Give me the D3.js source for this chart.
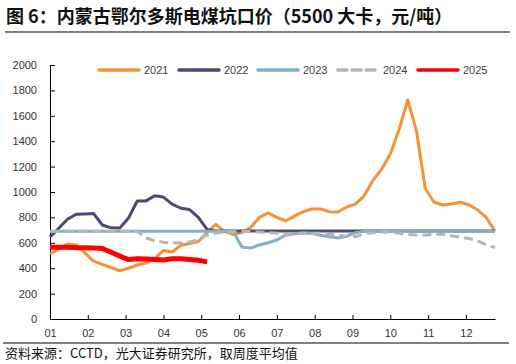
<!DOCTYPE html>
<html>
<head>
<meta charset="utf-8">
<script src="https://cdn.jsdelivr.net/npm/d3@7"></script>
<style>
  body { margin: 0; background: #fff; }
  svg { display: block; }
</style>
</head>
<body>
<script>
// weekly coal price, yuan/ton, one value per week (week 0 = early Jan)
const months = ["01", "02", "03", "04", "05", "06", "07", "08", "09", "10", "11", "12"];
const yTicks = [0, 200, 400, 600, 800, 1000, 1200, 1400, 1600, 1800, 2000];
const years = ["2021", "2022", "2023", "2024", "2025"];

const v2021 = [515, 550, 590, 583, 520, 455, 430, 405, 380, 400, 425, 440, 475, 540, 528, 580,
  595, 610, 680, 745, 690, 665, 680, 720, 800, 835, 800, 772, 810, 843, 866, 866,
  845, 843, 882, 905, 970, 1090, 1180, 1300, 1490, 1725, 1480, 1030, 921, 898, 905, 920,
  900, 860, 800, 690];
const v2022 = [646, 715, 785, 825, 827, 830, 740, 718, 717, 795, 929, 930, 970, 960, 905, 872,
  862, 800, 705, 693, 693, 693, 693, 693, 693, 693, 693, 693, 693, 693, 693, 693,
  693, 693, 693, 693, 693, 693, 693, 693, 693, 693, 693, 693, 693, 693, 693, 693,
  693, 693, 693, 693];
const v2023 = [690, 690, 690, 690, 690, 690, 690, 690, 690, 690, 690, 690, 690, 690, 690, 690,
  690, 690, 690, 690, 690, 690, 567, 558, 583, 600, 622, 660, 672, 677, 675, 660,
  648, 638, 652, 680, 690, 690, 690, 690, 690, 690, 690, 690, 690, 690, 690, 690,
  690, 690, 690, 690];
const v2024 = [690, 690, 690, 690, 690, 690, 690, 690, 690, 690, 690, 640, 615, 605, 598, 600,
  605, 625, 660, 678, 685, 688, 690, 688, 685, 680, 675, 668, 672, 675, 675, 675,
  668, 660, 650, 648, 670, 680, 685, 685, 675, 665, 662, 662, 668, 665, 655, 645,
  635, 615, 585, 562];
const v2025 = [565, 565, 565, 562, 562, 560, 555, 525, 495, 468, 475, 472, 468, 465, 475, 475,
  468, 462, 450];

const colors = ["#f39237", "#4b4b72", "#82aec8", "#b5b5b5", "#ff0000"];
const widths = [3, 3, 3, 3, 5];
const dashes = [null, null, null, "9,5", null];
const series = [v2021, v2022, v2023, v2024, v2025];

const W = 516, H = 364;
const svg = d3.select("body").append("svg").attr("width", W).attr("height", H);

const x = d3.scaleLinear().domain([0, 51]).range([50, 495]);
const y = d3.scaleLinear().domain([0, 2000]).range([319, 65]);

// title and rules
svg.append("text")
  .attr("x", 6).attr("y", 23)
  .attr("font-family", "'Noto Sans CJK SC', sans-serif")
  .attr("font-size", 18).attr("font-weight", "bold").attr("fill", "#111")
  .text("图 6：内蒙古鄂尔多斯电煤坑口价（5500 大卡，元/吨）");
svg.append("line").attr("x1", 5).attr("x2", 510).attr("y1", 32).attr("y2", 32)
  .attr("stroke", "#555").attr("stroke-width", 1.5);
svg.append("line").attr("x1", 3).attr("x2", 509).attr("y1", 343).attr("y2", 343)
  .attr("stroke", "#555").attr("stroke-width", 1.5);
svg.append("text")
  .attr("x", 5).attr("y", 358)
  .attr("font-family", "'Noto Sans CJK SC', sans-serif")
  .attr("font-size", 13).attr("fill", "#111")
  .text("资料来源：CCTD，光大证券研究所，取周度平均值");

// axes
const yAxis = svg.append("g")
  .attr("transform", "translate(50,0)")
  .call(d3.axisLeft(y).tickValues(yTicks).tickFormat(d3.format("d"))
    .tickSize(-5).tickSizeOuter(0).tickPadding(13));
const xAxis = svg.append("g")
  .attr("transform", "translate(0,319)")
  .call(d3.axisBottom(x)
    .tickValues(months.map((m, i) => i * 52 / 12))
    .tickFormat((d, i) => months[i])
    .tickSize(-4).tickSizeOuter(0).tickPadding(10));
[yAxis, xAxis].forEach(a => {
  a.selectAll("text").attr("font-family", "'Liberation Sans', Arial, sans-serif")
    .attr("font-size", 11).attr("fill", "#333");
  a.selectAll("line,path").attr("stroke", "#000");
});

// lines
const line = d3.line().x((d, i) => x(i)).y(d => y(d));
series.forEach((s, k) => {
  svg.append("path")
    .datum(s)
    .attr("fill", "none")
    .attr("stroke", colors[k])
    .attr("stroke-width", widths[k])
    .attr("stroke-dasharray", dashes[k])
    .attr("stroke-linejoin", "round")
    .attr("d", line);
});

// legend
const legX = [99, 179, 258, 338, 418];
const leg = svg.append("g");
years.forEach((yr, k) => {
  leg.append("line")
    .attr("x1", legX[k]).attr("x2", legX[k] + 40)
    .attr("y1", 70).attr("y2", 70)
    .attr("stroke", colors[k]).attr("stroke-width", 3.5)
    .attr("stroke-dasharray", dashes[k])
    .attr("stroke-linecap", "round");
  leg.append("text")
    .attr("x", legX[k] + 45).attr("y", 74)
    .attr("font-family", "'Liberation Sans', Arial, sans-serif")
    .attr("font-size", 11).attr("fill", "#404040")
    .text(yr);
});
</script>
</body>
</html>
